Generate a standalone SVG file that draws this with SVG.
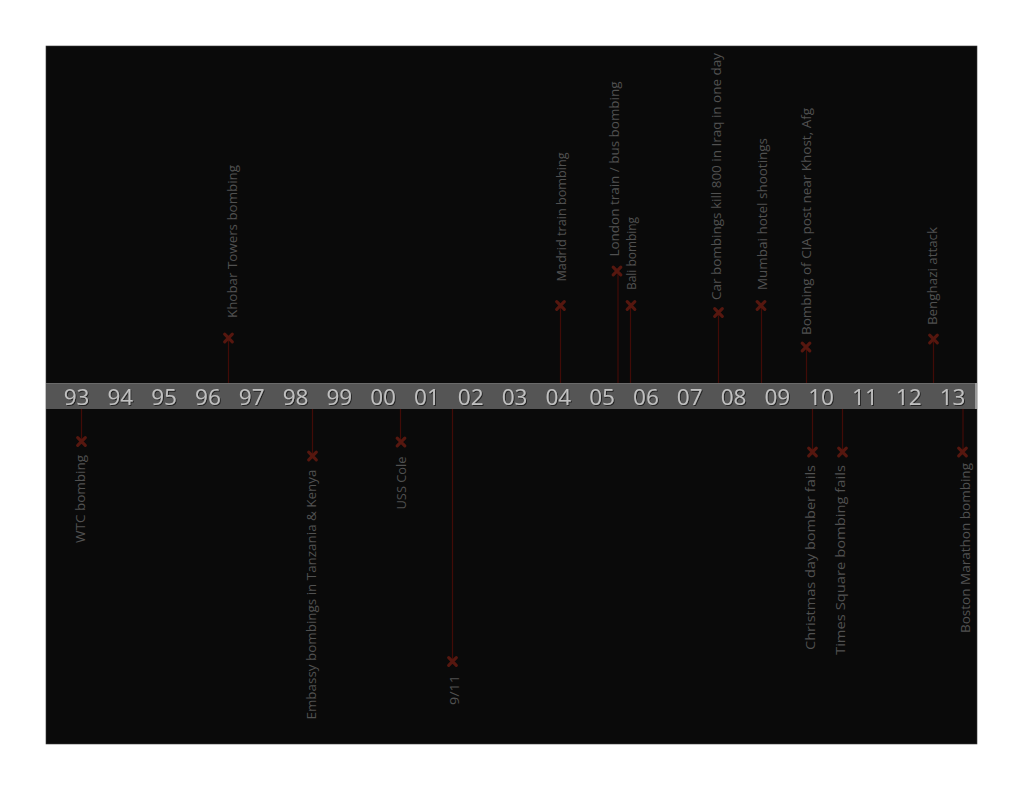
<svg xmlns="http://www.w3.org/2000/svg" width="1024" height="791" viewBox="0 0 1024 791">
  <style>
    .yr { font-family: "Open Sans", "Liberation Sans", sans-serif; font-size: 22.5px; fill: #c0c0c0; text-anchor: middle; }
    .lbl { font-family: "Open Sans", "Liberation Sans", sans-serif; font-size: 13.5px; fill: #515151; }
    .up { text-anchor: start; }
    .down { text-anchor: end; }
    .stem { stroke: #420b07; stroke-width: 1.2; fill: none; }
    .mk { stroke: #56170f; stroke-width: 3.2; stroke-linecap: round; fill: none; }
  </style>
  <defs>
    <filter id="sh" x="-20%" y="-20%" width="140%" height="140%">
      <feDropShadow dx="1" dy="1" stdDeviation="0.6" flood-color="#1a1a1a" flood-opacity="0.9"/>
    </filter>
    <path id="x" class="mk" d="M-3.8,-3.8 L3.8,3.8 M3.8,-3.8 L-3.8,3.8"/>
  </defs>
  <rect width="1024" height="791" fill="#ffffff"/>
  <rect x="46" y="46" width="931" height="698" fill="#0a0a0a" stroke="#3a3a3a" stroke-width="0.6"/>

  <g id="connectors">
    <line class="stem" x1="228.5" y1="383" x2="228.5" y2="338"/>
    <line class="stem" x1="560.5" y1="383" x2="560.5" y2="305.5"/>
    <line class="stem" x1="618" y1="383" x2="618" y2="271"/>
    <line class="stem" x1="630.5" y1="383" x2="630.5" y2="305.5"/>
    <line class="stem" x1="718.5" y1="383" x2="718.5" y2="312.5"/>
    <line class="stem" x1="761.5" y1="383" x2="761.5" y2="305.5"/>
    <line class="stem" x1="806.5" y1="383" x2="806.5" y2="347"/>
    <line class="stem" x1="933.5" y1="383" x2="933.5" y2="339"/>
    <line class="stem" x1="81.5" y1="409" x2="81.5" y2="441.5"/>
    <line class="stem" x1="312.5" y1="409" x2="312.5" y2="456"/>
    <line class="stem" x1="400.5" y1="409" x2="400.5" y2="442"/>
    <line class="stem" x1="452.5" y1="409" x2="452.5" y2="661.5"/>
    <line class="stem" x1="812.5" y1="409" x2="812.5" y2="452"/>
    <line class="stem" x1="842.5" y1="409" x2="842.5" y2="452"/>
    <line class="stem" x1="963" y1="409" x2="963" y2="452"/>
  </g>

  <g id="axis">
    <rect x="46" y="383" width="930" height="26" fill="#555555"/>
    <line x1="46" y1="383.5" x2="976" y2="383.5" stroke="#6a6a6a" stroke-width="1"/>
    <rect x="975" y="383" width="2" height="26" fill="#9a9a9a"/>
    <g filter="url(#sh)">
      <text class="yr" x="76.5" y="405">93</text>
      <text class="yr" x="120.3" y="405">94</text>
      <text class="yr" x="164.1" y="405">95</text>
      <text class="yr" x="207.9" y="405">96</text>
      <text class="yr" x="251.7" y="405">97</text>
      <text class="yr" x="295.5" y="405">98</text>
      <text class="yr" x="339.3" y="405">99</text>
      <text class="yr" x="383.1" y="405">00</text>
      <text class="yr" x="426.9" y="405">01</text>
      <text class="yr" x="470.7" y="405">02</text>
      <text class="yr" x="514.5" y="405">03</text>
      <text class="yr" x="558.3" y="405">04</text>
      <text class="yr" x="602.1" y="405">05</text>
      <text class="yr" x="645.9" y="405">06</text>
      <text class="yr" x="689.7" y="405">07</text>
      <text class="yr" x="733.5" y="405">08</text>
      <text class="yr" x="777.3" y="405">09</text>
      <text class="yr" x="821.1" y="405">10</text>
      <text class="yr" x="864.9" y="405">11</text>
      <text class="yr" x="908.7" y="405">12</text>
      <text class="yr" x="952.5" y="405">13</text>
    </g>
  </g>

  <g id="khobar">
    <use href="#x" x="228.5" y="338"/>
    <text class="lbl up" transform="translate(237,318) rotate(-90)" textLength="153" lengthAdjust="spacingAndGlyphs">Khobar Towers bombing</text>
  </g>
  <g id="madrid">
    <use href="#x" x="560.5" y="305.5"/>
    <text class="lbl up" transform="translate(565.5,281.5) rotate(-90)" textLength="129" lengthAdjust="spacingAndGlyphs">Madrid train bombing</text>
  </g>
  <g id="london">
    <use href="#x" x="617" y="271"/>
    <text class="lbl up" transform="translate(619,256.5) rotate(-90)" textLength="175" lengthAdjust="spacingAndGlyphs">London train / bus bombing</text>
  </g>
  <g id="bali">
    <use href="#x" x="631" y="305.5"/>
    <text class="lbl up" transform="translate(636,290) rotate(-90)" textLength="73" lengthAdjust="spacingAndGlyphs">Bali bombing</text>
  </g>
  <g id="car-bombings">
    <use href="#x" x="718.5" y="312.5"/>
    <text class="lbl up" transform="translate(720.5,300) rotate(-90)" textLength="247" lengthAdjust="spacingAndGlyphs">Car bombings kill 800 in Iraq in one day</text>
  </g>
  <g id="mumbai">
    <use href="#x" x="761" y="305.5"/>
    <text class="lbl up" transform="translate(767,290) rotate(-90)" textLength="152" lengthAdjust="spacingAndGlyphs">Mumbai hotel shootings</text>
  </g>
  <g id="cia-khost">
    <use href="#x" x="806" y="347"/>
    <text class="lbl up" transform="translate(811,335) rotate(-90)" textLength="227" lengthAdjust="spacingAndGlyphs">Bombing of CIA post near Khost, Afg</text>
  </g>
  <g id="benghazi">
    <use href="#x" x="933.5" y="339"/>
    <text class="lbl up" transform="translate(937,325) rotate(-90)" textLength="98" lengthAdjust="spacingAndGlyphs">Benghazi attack</text>
  </g>

  <g id="wtc">
    <use href="#x" x="81.5" y="441.5"/>
    <text class="lbl down" transform="translate(85,455) rotate(-90)" textLength="88" lengthAdjust="spacingAndGlyphs">WTC bombing</text>
  </g>
  <g id="embassy">
    <use href="#x" x="312.5" y="456"/>
    <text class="lbl down" transform="translate(316,469.5) rotate(-90)" textLength="250" lengthAdjust="spacingAndGlyphs">Embassy bombings in Tanzania &amp; Kenya</text>
  </g>
  <g id="uss-cole">
    <use href="#x" x="401" y="442"/>
    <text class="lbl down" transform="translate(405.5,456.5) rotate(-90)" textLength="53" lengthAdjust="spacingAndGlyphs">USS Cole</text>
  </g>
  <g id="nine-eleven">
    <use href="#x" x="452.5" y="661.5"/>
    <text class="lbl down" transform="translate(458.5,675) rotate(-90)" textLength="30" lengthAdjust="spacingAndGlyphs">9/11</text>
  </g>
  <g id="christmas">
    <use href="#x" x="812.5" y="452"/>
    <text class="lbl down" transform="translate(815,465) rotate(-90)" textLength="185" lengthAdjust="spacingAndGlyphs">Christmas day bomber fails</text>
  </g>
  <g id="times-square">
    <use href="#x" x="842.5" y="452"/>
    <text class="lbl down" transform="translate(844.5,465) rotate(-90)" textLength="190" lengthAdjust="spacingAndGlyphs">Times Square bombing fails</text>
  </g>
  <g id="boston">
    <use href="#x" x="962.5" y="452"/>
    <text class="lbl down" transform="translate(969.5,463) rotate(-90)" textLength="170" lengthAdjust="spacingAndGlyphs">Boston Marathon bombing</text>
  </g>
</svg>
